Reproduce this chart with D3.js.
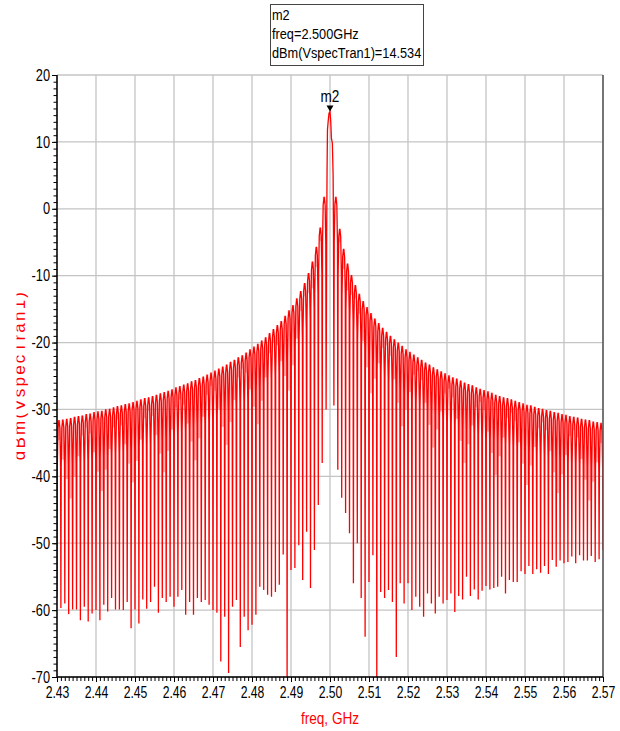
<!DOCTYPE html>
<html><head><meta charset="utf-8">
<script src="https://cdn.jsdelivr.net/npm/d3@7/dist/d3.min.js"></script>
<style>
body{margin:0;background:#fff}
text{font-family:"Liberation Sans",Arial,sans-serif}
</style>
</head><body>
<svg id="chart" width="620" height="731"></svg>
<script>
// ---------- data ----------
const centerFreq = 2.5;      // GHz
const lineSpacing = 0.001;   // GHz between spectral nulls
const xTicks = [2.43,2.44,2.45,2.46,2.47,2.48,2.49,2.50,2.51,2.52,2.53,2.54,2.55,2.56,2.57];
const xTickLabels = ["2.43","2.44","2.45","2.46","2.47","2.48","2.49","2.50","2.51","2.52","2.53","2.54","2.55","2.56","2.57"];
const yTicks = [20,10,0,-10,-20,-30,-40,-50,-60,-70];
const yTickLabels = ["20","10","0","-10","-20","-30","-40","-50","-60","-70"];

// null levels (dBm) for nulls at 2.430 ... 2.499 GHz
const leftNullLevels = [
 -58.0,-59.7,-59.0,-60.6,-59.9,-59.9,-61.5,-59.5,-61.7,-60.5,
 -60.0,-61.5,-59.2,-60.2,-58.2,-59.9,-59.9,-60.0,-58.8,-62.7,
 -59.9,-62.0,-58.4,-59.8,-58.8,-56.5,-60.4,-58.2,-58.8,-58.0,
 -59.5,-58.0,-57.0,-60.7,-58.8,-60.7,-58.2,-58.8,-58.5,-59.2,
 -60.0,-60.4,-67.7,-61.0,-69.4,-59.5,-58.5,-65.5,-61.0,-63.0,
 -62.2,-60.7,-56.5,-57.0,-57.7,-58.0,-57.3,-56.2,-51.7,-72.0,
 -54.0,-53.7,-50.3,-55.5,-48.3,-56.7,-51.0,-44.3,-38.0,-30.0];
// null levels (dBm) for nulls at 2.501 ... 2.570 GHz
const rightNullLevels = [
 -29.4,-39.0,-43.2,-45.5,-48.5,-56.0,-50.0,-58.2,-64.0,-55.8,
 -51.8,-72.0,-57.3,-58.2,-57.0,-58.8,-67.0,-56.0,-59.0,-56.0,
 -60.0,-58.0,-59.5,-61.0,-57.5,-59.0,-60.5,-58.0,-59.0,-58.5,
 -57.5,-60.3,-57.9,-58.4,-55.0,-57.9,-56.9,-58.4,-57.1,-56.4,
 -56.9,-56.7,-56.5,-55.0,-57.5,-55.5,-55.8,-55.8,-54.2,-54.6,
 -53.4,-54.6,-53.9,-54.4,-53.4,-54.6,-52.5,-53.5,-52.6,-53.0,
 -52.8,-52.0,-53.0,-51.8,-52.6,-52.6,-51.9,-52.8,-52.4,-51.0];
// side-lobe peaks (dBm), left side from 2.4305 to 2.4985 GHz
const leftLobePeaks = [
 -31.6,-31.5,-31.4,-31.3,-31.1,-31.0,-30.9,-30.7,-30.6,-30.4,
 -30.3,-30.2,-30.0,-29.9,-29.7,-29.5,-29.4,-29.2,-29.1,-28.9,
 -28.7,-28.5,-28.3,-28.2,-28.0,-27.8,-27.6,-27.4,-27.2,-27.0,
 -26.7,-26.5,-26.3,-26.1,-25.8,-25.6,-25.3,-25.1,-24.8,-24.5,
 -24.2,-23.9,-23.6,-23.3,-22.9,-22.6,-22.2,-21.9,-21.5,-21.0,
 -20.6,-20.2,-19.7,-19.2,-18.6,-18.0,-17.4,-16.8,-16.0,-15.2,
 -14.4,-13.4,-12.3,-11.1,-9.6,-7.9,-5.7,-2.8,1.8];
// side-lobe peaks (dBm), right side from 2.5015 to 2.5695 GHz
const rightLobePeaks = [
 1.8,-3.0,-6.0,-8.2,-9.9,-11.4,-12.7,-13.8,-14.7,-15.6,
 -16.4,-17.1,-17.8,-18.4,-19.0,-19.5,-20.0,-20.5,-21.0,-21.4,
 -21.8,-22.2,-22.6,-23.0,-23.3,-23.7,-24.0,-24.3,-24.6,-24.9,
 -25.2,-25.4,-25.7,-26.0,-26.2,-26.4,-26.7,-26.9,-27.1,-27.3,
 -27.5,-27.8,-28.0,-28.2,-28.3,-28.5,-28.7,-28.9,-29.1,-29.3,
 -29.4,-29.6,-29.8,-29.9,-30.1,-30.2,-30.4,-30.5,-30.7,-30.8,
 -31.0,-31.1,-31.2,-31.4,-31.5,-31.6,-31.8,-31.9,-32.0];
// lower edge of the dense ripple band inside each side lobe (dBm)
const leftRippleFloor = [
 -34.6,-37.5,-40.4,-43.3,-40.1,-37.0,-33.9,-32.7,-33.6,-36.4,
 -39.3,-42.2,-39.0,-35.9,-32.7,-31.5,-32.4,-35.2,-38.1,-40.9,
 -37.7,-34.5,-31.3,-30.2,-31.0,-33.8,-36.6,-39.4,-36.2,-33.0,
 -29.7,-28.5,-29.3,-32.1,-34.8,-37.6,-34.3,-31.1,-27.8,-26.5,
 -27.2,-29.9,-32.6,-35.3,-31.9,-28.6,-25.2,-23.9,-24.5,-27.0,
 -29.6,-32.2,-28.7,-25.2,-21.6,-20.0,-20.4,-22.8,-25.0,-27.2,
 -23.4,-19.4,-15.3,-13.1,-12.6,-11.9,-8.7,-4.8,0.8];
const rightRippleFloor = [
 0.8,-5.0,-9.0,-12.2,-12.9,-13.4,-15.7,-19.8,-23.7,-27.6,
 -25.4,-23.1,-20.8,-20.4,-22.0,-25.5,-29.0,-32.5,-30.0,-27.4,
 -24.8,-24.2,-25.6,-29.0,-32.3,-35.7,-33.0,-30.3,-27.6,-26.9,
 -28.2,-31.4,-34.7,-38.0,-35.2,-32.4,-29.7,-28.9,-30.1,-33.3,
 -36.5,-39.8,-37.0,-34.2,-31.3,-30.5,-31.7,-34.9,-38.1,-41.3,
 -38.4,-35.6,-32.8,-31.9,-33.1,-36.2,-39.4,-42.5,-39.7,-36.8,
 -34.0,-33.1,-34.2,-37.4,-40.5,-43.6,-40.8,-37.9,-35.0];
// main lobe trace between the first nulls: [GHz, dBm]
const mainLobe = [
 [2.49915,-3.0],[2.49925,6.0],[2.49935,11.8],[2.49955,13.2],[2.49975,14.3],
 [2.50000,14.534],[2.50020,13.0],[2.50035,10.6],[2.50060,9.8],[2.50080,5.0],[2.50090,-4.0]];
const marker = {name:"m2", freq:2.500, value:14.534, trace:"dBm(VspecTran1)"};

// ---------- layout ----------
const L = 57, R = 603, T = 75, B = 677;
const svg = d3.select("#chart");
const x = d3.scaleLinear().domain([2.43,2.57]).range([L,R]);
const y = d3.scaleLinear().domain([-70,20]).range([B,T]);
const red = "#ff0000";

// narrow-font emulation: horizontal squeeze around the text's own anchor x
function condense(sel, k){
  sel.each(function(){
    const t = d3.select(this);
    const x0 = +(t.attr("x") || 0);
    t.attr("x", x0 / k).attr("transform", `scale(${k},1)`);
  });
}

// legend / marker readout box
const lg = svg.append("g");
lg.append("rect").attr("x",270.5).attr("y",4.5).attr("width",153).attr("height",61)
  .attr("fill","#fff").attr("stroke","#444").attr("stroke-width",1);
const lgLines = [marker.name, "freq=" + marker.freq.toFixed(3) + "GHz", marker.trace + "=" + marker.value.toFixed(3)];
lg.selectAll("text.lg").data(lgLines).join("text").attr("class","lg")
  .attr("x",272).attr("y",(d,i)=>20 + i*19).attr("font-size",15).attr("fill","#000").text(d=>d)
  .call(s=>condense(s,0.85));

// grid
const grid = svg.append("g").attr("stroke","#c4c4c4").attr("stroke-width",1.3);
xTicks.forEach(t=>grid.append("line").attr("x1",x(t)).attr("x2",x(t)).attr("y1",T).attr("y2",B));
yTicks.forEach(t=>grid.append("line").attr("x1",L).attr("x2",R).attr("y1",y(t)).attr("y2",y(t)));

// clip
svg.append("clipPath").attr("id","plotclip").append("rect")
  .attr("x",L).attr("y",T).attr("width",R-L).attr("height",B-T);
const plot = svg.append("g").attr("clip-path","url(#plotclip)");

// ripple band (dense fine structure rendered as pink hatch)
const ripple = [];
leftLobePeaks.forEach((p,i)=>{ ripple.push({f0: centerFreq + (i-70)*lineSpacing, top:p, floor:leftRippleFloor[i]}); });
rightLobePeaks.forEach((p,i)=>{ ripple.push({f0: centerFreq + (i+1)*lineSpacing, top:p, floor:rightRippleFloor[i]}); });
plot.append("g").selectAll("rect").data(ripple).join("rect")
  .attr("x",d=>x(d.f0)+0.6).attr("width",d=>x(d.f0+lineSpacing)-x(d.f0)-1.2)
  .attr("y",d=>y(d.top)).attr("height",d=>Math.max(0,y(d.floor)-y(d.top)))
  .attr("fill","#ff7a7a").attr("opacity",0.55);

// trace
const lobeShape = [[0.08,-7],[0.25,-1.2],[0.5,0],[0.75,-1.2],[0.92,-7]];
const pts = [];
leftNullLevels.forEach((v,i)=>{
  const f = centerFreq + (i-70)*lineSpacing;
  pts.push([f,v]);
  if (i < leftLobePeaks.length) lobeShape.forEach(([t,d])=>pts.push([f+t*lineSpacing, leftLobePeaks[i]+d]));
});
mainLobe.forEach(p=>pts.push(p));
rightNullLevels.forEach((v,i)=>{
  const f = centerFreq + (i+1)*lineSpacing;
  pts.push([f,v]);
  if (i < rightLobePeaks.length) lobeShape.forEach(([t,d])=>pts.push([f+t*lineSpacing, rightLobePeaks[i]+d]));
});
plot.append("path").datum(pts)
  .attr("d", d3.line().x(d=>x(d[0])).y(d=>y(d[1])))
  .attr("fill","none").attr("stroke",red).attr("stroke-width",1.3).attr("stroke-linejoin","miter");

// frame
svg.append("line").attr("x1",R).attr("x2",R).attr("y1",T).attr("y2",B).attr("stroke","#555").attr("stroke-width",1.5);
svg.append("line").attr("x1",L).attr("x2",L).attr("y1",T).attr("y2",B+0.75).attr("stroke","#000").attr("stroke-width",1.5);
svg.append("line").attr("x1",L).attr("x2",R).attr("y1",B).attr("y2",B).attr("stroke","#000").attr("stroke-width",1.5);

// axes with d3 axis generators
const yMinor = d3.range(-70,20.01,1);
const xMinor = d3.range(0,141).map(i=>2.43+i*0.001);
svg.append("g").attr("transform",`translate(${L},0)`)
  .call(d3.axisLeft(y).tickValues(yMinor).tickSize(3.5).tickFormat(""))
  .call(g=>{g.select(".domain").remove(); g.selectAll("line").attr("stroke","#000");});
svg.append("g").attr("transform",`translate(${L},0)`)
  .call(d3.axisLeft(y).tickValues(yTicks).tickSize(5).tickPadding(2).tickFormat((d,i)=>yTickLabels[i]))
  .call(g=>{g.select(".domain").remove(); g.selectAll("line").attr("stroke","#000");
    g.selectAll("text").attr("font-size",16).attr("fill","#000").attr("font-family",null).call(s=>condense(s,0.8));});
svg.append("g").attr("transform",`translate(0,${B})`)
  .call(d3.axisBottom(x).tickValues(xMinor).tickSize(4).tickFormat(""))
  .call(g=>{g.select(".domain").remove(); g.selectAll("line").attr("stroke","#000");});
svg.append("g").attr("transform",`translate(0,${B})`)
  .call(d3.axisBottom(x).tickValues(xTicks).tickSize(5).tickPadding(4).tickFormat((d,i)=>xTickLabels[i]))
  .call(g=>{g.select(".domain").remove(); g.selectAll("line").attr("stroke","#000");
    g.selectAll("text").attr("font-size",16.5).attr("fill","#000").attr("font-family",null).call(s=>condense(s,0.74));});

// axis titles
svg.append("text").attr("x",(L+R)/2).attr("y",724).attr("text-anchor","middle")
  .attr("font-size",16).attr("fill",red).text("freq, GHz").call(s=>condense(s,0.85));
svg.append("clipPath").attr("id","ytclip").append("rect").attr("x",16.5).attr("y",200).attr("width",40).attr("height",350);
svg.append("g").attr("clip-path","url(#ytclip)")
  .append("text").attr("transform","translate(24.5,375) rotate(-90)").attr("text-anchor","middle")
  .attr("font-size",17).attr("letter-spacing",2.2).attr("fill",red).text(marker.trace);

// marker
const mx = x(marker.freq), my = y(marker.value);
svg.append("path").attr("d",`M${mx-3.5},${my-6}L${mx+3.5},${my-6}L${mx},${my}Z`).attr("fill","#000");
svg.append("text").attr("x",mx).attr("y",my-10).attr("text-anchor","middle").attr("font-size",16).attr("fill","#000").text(marker.name)
  .call(s=>condense(s,0.85));
</script>
</body></html>
